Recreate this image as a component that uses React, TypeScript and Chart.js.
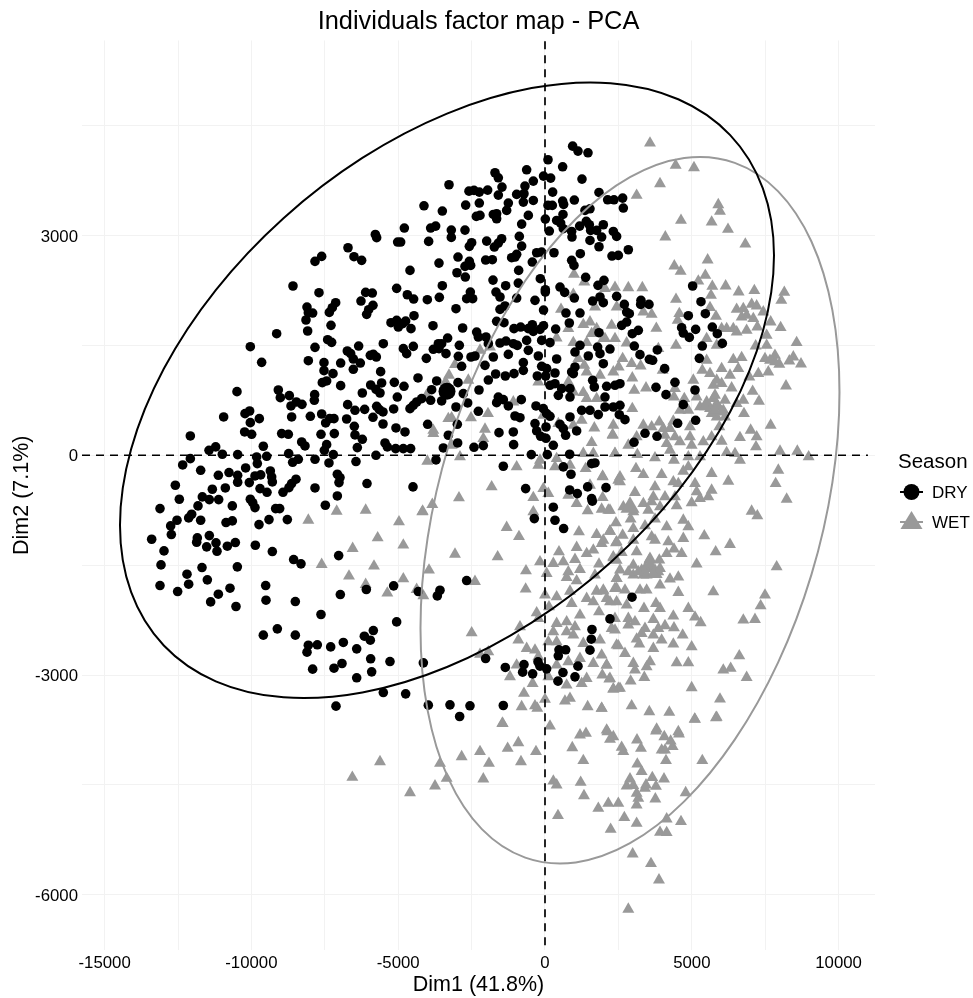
import React, { useEffect, useRef } from "react";
import { Chart, registerables } from "chart.js";

Chart.register(...registerables);

const FONT = '"Liberation Sans", Arial, sans-serif';
const xTicks = [-15000, -12500, -10000, -7500, -5000, -2500, 0, 2500, 5000, 7500, 10000];
const xLabels = [-15000, -10000, -5000, 0, 5000, 10000];
const yTicks = [-6000, -4500, -3000, -1500, 0, 1500, 3000, 4500];
const yLabels = [-6000, -3000, 0, 3000];

const dryA = [[-5779,3014],[-5734,2969],[-5019,2910],[-6710,2832],[-6506,2710],[-6245,2660],[-7607,2714],[-7834,2646],[-8584,2310],[-7698,2219],[-5053,2278],[-6109,2223],[-5882,2214],[-6268,2105],[-5859,2046],[-6006,1987],[-6075,1923],[-7130,2082],[-7244,2014],[-7346,1950],[-8107,2023],[-8061,1946],[-7914,1941],[-8141,1846],[-7289,1773],[-8084,1696],[-9140,1659],[-5246,1809],[-5053,1841],[-4996,1750],[-5507,1523],[-7403,1577],[-7267,1541],[-6347,1491],[-7834,1473],[-10037,1482],[-6733,1423],[-6619,1387],[-6529,1314],[-6290,1259],[-6960,1259],[-7528,1264],[-8061,1291],[-9651,1268],[-5950,1364],[-5847,1377],[-5745,1341],[-6529,1173],[-5598,1141],[-7528,1155],[-7221,1114],[-7437,1014],[-7585,991],[-6960,950],[-5564,987],[-5132,995],[-5938,959],[-5757,900],[-5620,850],[-6222,850],[-10491,868],[-9083,891],[-7846,827],[-8708,814],[-9015,786],[-7857,750],[-8470,727],[-8277,695],[-8652,673],[-5030,795],[-6722,691],[-6472,614],[-6143,627],[-5734,668],[-5643,623],[-5518,591],[-5155,632],[-10060,604],[-10218,568],[-10945,523],[-9730,500],[-10037,445],[-8629,523],[-7993,532],[-7607,563],[-7335,500],[-7187,500],[-7471,441],[-6756,495],[-5859,518],[-5518,427],[-6495,395],[-5076,373]];

const dryB = [[942,4219],[1124,4151],[1464,4128],[102,4033],[601,3937],[-625,3896],[-1703,3856],[-1590,3787],[-50,3810],[193,3783],[1260,3769],[-398,3742],[-3270,3692],[-682,3674],[-1465,3660],[-2589,3605],[-2419,3615],[-2237,3592],[-1953,3619],[-1590,3551],[-965,3560],[-716,3569],[261,3592],[1839,3587],[-4122,3405],[-2702,3414],[-2237,3442],[-1249,3442],[-738,3455],[-398,3478],[102,3410],[249,3410],[601,3469],[635,3424],[999,3483],[2134,3487],[2350,3487],[-3497,3333],[-1306,3342],[-2339,3260],[-2214,3274],[-1760,3287],[-1647,3296],[-1647,3228],[-568,3274],[11,3223],[613,3287],[397,3205],[533,3169],[1362,3342],[1532,3364],[-795,3155],[-4791,3101],[-3895,3101],[-3724,3128],[-3191,3073],[-2725,3073],[147,3060],[624,3092],[908,3055],[1180,3128],[1407,3192],[1510,3146],[1986,3146],[-3191,2973],[-3963,2919],[-4916,2910],[919,2978],[1555,3069],[1759,3069],[1532,2932],[1929,2978],[1839,2846],[2327,3055],[2440,2987],[-875,2987],[-1987,2923],[-1476,2955],[-1590,2896],[-1726,2842],[-2498,2901],[-2577,2851],[-795,2855],[-284,2764],[-114,2773],[306,2764],[1203,2751],[2282,2719],[2497,2728],[-2963,2705],[-965,2742],[-1136,2696],[-1022,2705],[-2021,2664],[-1794,2669],[-432,2637],[908,2660],[987,2591],[-3611,2623],[-2577,2646],[-2725,2578],[-2532,2591],[-4598,2523],[-2998,2491],[-897,2523],[-2714,2432],[-159,2410],[1385,2428],[2009,2387],[1805,2319],[-1771,2391],[-1340,2314],[-909,2350],[-3497,2314],[11,2260],[11,2228],[511,2296],[670,2223],[2440,2169],[999,2146],[1873,2160],[1623,2105],[1986,2082],[-4689,2191],[-4474,2132],[-4008,2123],[-3599,2155],[-2543,2228],[-2668,2137],[-2464,2137],[-1669,2228],[-1533,2160],[-965,2146],[-341,2114],[-3032,2000],[-1533,1991],[-1363,2037],[-50,1982],[715,1941],[1192,1941],[-4462,1905],[-1647,1828],[-1397,1809],[-4746,1832],[-4848,1796],[-4564,1728],[-3815,1768],[-2805,1737],[828,1805],[-1056,1728],[-829,1750],[-568,1728],[-432,1782],[-398,1691],[-171,1718],[-50,1768],[363,1723],[1839,1673],[-2328,1682],[-2271,1614],[-2010,1614],[-3316,1600],[-4485,1486],[-3633,1523],[-3520,1523],[-2918,1500],[-1533,1532],[-1329,1559],[-1079,1523],[-943,1500],[-625,1568],[-114,1568],[170,1537],[1192,1500],[1793,1477],[-3804,1446],[-3611,1455],[-1930,1523],[-4825,1455],[-4712,1387],[-3372,1387],[-2952,1350],[-2521,1341],[-2385,1355],[-1760,1341],[-1249,1377],[-568,1432],[-227,1355],[1021,1409],[1475,1355],[1873,1387],[2213,1450],[-4042,1323],[1986,1250],[397,1314],[-738,1264],[-2839,1214],[-2044,1227],[-114,1214],[56,1182],[1021,1205],[-738,1159],[908,1137],[-1056,1114],[-1681,1109],[-1351,1082],[-262,1082],[22,1082],[965,1114],[340,1123],[-4326,1055],[-3690,1014],[-1930,1027],[-2963,991],[-4803,941],[-3860,895],[-2248,891],[-2782,841],[170,955],[340,977],[567,909],[851,909],[1623,1023],[1680,932],[2100,941],[2384,955],[2554,977],[454,818],[2043,795],[851,795],[-4201,773],[-3895,750],[-4371,727],[-4485,682],[-4598,636],[-3520,741],[-2634,714],[-1590,795],[-1420,759],[-1647,718],[-1249,673],[-807,759],[-3032,659],[-307,673],[-57,636],[56,568],[170,532],[-2271,600],[-1022,536],[-852,513],[851,523],[1248,614],[1532,614],[1816,555],[2043,659],[2327,659],[2554,682],[-3997,423],[-2986,423],[-341,432],[34,386],[511,423],[624,363]];

const dryC = [[2645,3510],[2668,3374],[2838,2805],[5029,2310],[5313,2096],[3269,2114],[3258,2059],[3542,2059],[2702,2059],[2781,1955],[2872,1932],[2781,1818],[2611,1773],[3179,1705],[2974,1659],[4882,1905],[5461,1932],[4654,1741],[5131,1718],[5699,1750],[4711,1668],[4916,1609],[5869,1659],[6040,1527],[5358,1491],[3042,1491],[3826,1437],[3235,1373],[3553,1309],[3667,1296],[5256,1323],[4076,1182],[4427,995],[3780,927],[4121,827],[5109,891],[4711,691],[5131,477],[4518,436],[2531,554],[2724,486]];

const dryD = [[-12080,264],[-10230,318],[-9991,286],[-8969,296],[-8742,286],[-7630,286],[-7176,296],[-6472,277],[-6222,218],[-4769,318],[-9594,123],[-11217,114],[-11444,68],[-8288,182],[-8175,127],[-7437,145],[-7516,68],[-6392,105],[-5450,168],[-5370,114],[-5087,91],[-4826,91],[-4576,91],[-10990,14],[-10468,9],[-9821,-23],[-9480,-14],[-8731,23],[-7210,9],[-5757,0],[-12080,-46],[-12341,-132],[-9798,-114],[-8402,-55],[-8595,-96],[-7834,-55],[-7358,-105],[-6438,-86],[-11728,-205],[-10196,-173],[-9355,-214],[-11126,-273],[-10763,-236],[-10468,-273],[-10468,-368],[-9684,-268],[-9878,-282],[-9310,-296],[-9287,-364],[-10071,-373],[-7073,-259],[-6983,-305],[-7017,-373],[-8481,-327],[-8629,-386],[-8720,-441],[-8924,-505],[-12591,-409],[-11331,-464],[-10888,-446],[-9707,-455],[-9469,-505],[-7834,-446],[-6063,-386],[-4496,-432],[-7073,-555],[-12455,-600],[-11671,-568],[-11433,-605],[-11115,-605],[-10037,-600],[-9957,-646],[-13113,-728],[-11819,-691],[-10650,-691],[-9878,-714],[-9174,-728],[-9037,-728],[-7482,-682],[-12035,-805],[-12137,-855],[-12534,-887],[-11728,-887],[-10865,-918],[-10650,-896],[-9401,-878],[-8776,-878],[-12750,-964],[-9741,-946],[-12727,-1082],[-13397,-1146],[-11433,-1096],[-11842,-1128],[-11864,-1187],[-11206,-1196],[-11524,-1250],[-10820,-1241],[-10547,-1191],[-9866,-1228],[-11172,-1310],[-12977,-1305],[-9287,-1314],[-13079,-1496],[-8561,-1423],[-8311,-1482],[-7028,-1369],[-11683,-1532],[-10479,-1523],[-12194,-1623],[-11501,-1700],[-13113,-1778],[-12137,-1760],[-12512,-1860],[-10729,-1814],[-11126,-1896],[-9514,-1778],[-11388,-2001],[-10525,-2064],[-9503,-1978],[-8504,-1996],[-6971,-1901],[-6086,-1832],[-5155,-1782],[-4315,-1860],[-7630,-2173],[-5053,-2274],[-9117,-2369],[-9594,-2455],[-8504,-2455],[-5847,-2392],[-6153,-2469],[-5950,-2524],[-8061,-2592],[-7755,-2587],[-7300,-2615],[-6869,-2555],[-6414,-2642],[-8106,-2687],[-5938,-2778],[-6915,-2842],[-7187,-2906],[-7914,-2919],[-5280,-2815],[-4144,-2833],[-5904,-2956],[-6414,-3037],[-5507,-3238],[-4746,-3256],[-7119,-3424],[-3974,-3410]];

const dryE = [[-3293,273],[-2975,168],[-3463,100],[-3713,-64],[-2419,109],[-2101,132],[-1567,309],[-1079,318],[-1068,145],[-284,332],[-148,259],[33,232],[283,136],[703,273],[1078,332],[-466,9],[79,9],[840,14],[-1420,-150],[624,-159],[885,-259],[1589,-114],[1702,-105],[-659,-455],[840,-473],[1101,-523],[1453,-432],[2077,-441],[1589,-591],[1612,-627],[283,-709],[-364,-864],[340,-887],[635,-1000],[-2669,-1710],[-3577,-1842],[-3668,-1919],[2213,-2233],[1600,-2378],[1577,-2510],[1532,-2660],[476,-2655],[703,-2655],[453,-2737],[-2022,-2774],[-716,-2856],[-239,-2819],[-171,-2878],[56,-2915],[-1352,-2896],[-761,-2960],[-421,-2983],[1123,-2878],[612,-2965],[1021,-3024],[442,-3083],[-3236,-3406],[-2555,-3419],[-1420,-3415],[-2907,-3565],[3406,300],[3815,259],[3031,177],[2963,-1937]];

const wetA = [[3576,4283],[4450,3978],[5075,3946],[3917,3728],[3122,3569],[5903,3442],[5960,3351],[4632,3228],[5676,3205],[6233,3105],[4098,3001],[6823,2905],[5540,2687],[4405,2605],[4620,2532],[5461,2478],[5222,2400],[5699,2328],[6153,2332],[3315,2309],[2838,2309],[2384,2314],[6596,2250],[7130,2269],[8151,2246],[8049,2137],[4462,2150],[5654,2205],[5620,2037],[7039,2082],[7209,2059],[6528,2014],[6755,2023],[7436,1978],[6868,1932],[6698,1909],[7095,1887],[7686,1841],[5824,1918],[4575,1955],[4518,1864],[3633,1946],[3349,1978],[2441,2046],[8026,1764],[7232,1773],[3792,1755],[2270,1796],[6187,1750],[6414,1750],[6528,1705],[6868,1727],[6017,1750],[7550,1659],[5506,1614],[8571,1559],[4462,1523],[7175,1514],[7550,1523],[5847,1523],[2781,1555],[2384,1614],[2043,1614],[3860,1477],[2645,1341],[2951,1273],[3258,1241],[2327,1159],[2509,1227],[5506,1318],[6698,1355],[6414,1327],[7493,1341],[7833,1386],[8458,1364],[8322,1309],[8719,1268],[7981,1264],[7663,1318],[7833,1296],[5358,1182],[4007,1182],[6017,1205],[6584,1205],[5620,1137],[6301,1114],[7266,1137],[7606,1159],[6959,1091],[5052,1046],[5847,1046],[6017,1000],[5733,977],[2974,1077],[8208,968],[6357,941],[3440,941],[3042,909],[7073,895],[4427,932],[5165,818],[4745,795],[4393,818],[5733,795],[6130,773],[5506,750],[5847,727],[5279,682],[4882,636],[4598,636],[5620,659],[6073,636],[7288,759],[6755,773],[6528,727],[2974,659],[6777,591],[5847,545],[6130,545],[7686,432],[5937,409],[3894,477],[3349,432],[3633,409],[4371,486],[4030,386],[4938,409],[7005,364],[4257,386],[5790,841],[5903,682],[5676,591],[6017,613],[5449,682],[5790,636]];

const wetB = [[987,2491],[1339,2387],[965,2218],[545,2014],[1703,2046],[2043,2296],[1532,1841],[1305,1805],[794,1750],[1589,1682],[397,1623],[965,1559],[1419,1559],[1986,1614],[1759,1750],[-1874,1500],[-2214,1455],[-3066,1259],[-3270,1114],[-2612,1046],[-3384,1023],[-4031,841],[-227,1023],[794,1023],[1339,1250],[1419,1159],[1135,1341],[1873,1114],[965,886],[1305,877],[1759,795],[1419,795],[-1079,750],[-3293,523],[-3180,532],[-2521,532],[-1942,591],[-2044,377],[-3804,363],[-57,568],[454,455],[965,432],[1248,500],[1680,395],[2327,432]];

const wetC = [[-3804,318],[-2101,250],[-3179,159],[-2896,0],[-4008,-59],[-966,-136],[-171,-46],[-228,-114],[397,-23],[340,-136],[851,-114],[1305,46],[1646,46],[2383,46],[1589,195],[2304,295],[1384,-159],[1963,-273],[2497,-318],[-1817,-409],[-2930,-559],[-57,-432],[113,-500],[-398,-555],[1532,-387],[794,-523],[1078,-637],[1963,-555],[1453,-737],[1930,-714],[2213,-728],[-3838,-650],[-4167,-741],[-398,-750],[-1306,-964],[-886,-1087],[1157,-1023],[1759,-1060],[2213,-1014],[1929,-1182],[2440,-1160],[-3066,-1328],[-1613,-1364],[476,-1296],[1078,-1237],[1419,-1319],[1646,-1273],[2326,-1364],[-171,-1432],[283,-1455],[624,-1432],[1021,-1400],[1839,-1464],[2440,-1410],[-3951,-1546],[-648,-1555],[56,-1591],[1191,-1537],[794,-1569],[1702,-1614],[737,-1646],[1078,-1691],[2440,-1660],[-2385,-1701],[-4144,-1896],[-659,-1805],[0,-1887],[851,-1833],[397,-1910],[1419,-1932],[1759,-1833],[1986,-1819],[2383,-1796],[2100,-1932],[2440,-1978],[908,-2001],[136,-2046],[1646,-1978],[1839,-2114],[-284,-2128],[1191,-2160],[-228,-2205],[737,-2251],[397,-2273],[-852,-2319],[1021,-2319],[2383,-2205],[283,-2387],[-2498,-2401],[737,-2387],[965,-2433],[-909,-2501],[397,-2524],[113,-2524],[1305,-2546],[1873,-2501],[2270,-2342],[2440,-2569],[-625,-2615],[-341,-2637],[1930,-2705],[1191,-2751],[-2214,-2696],[-1931,-2660],[-228,-2728],[1646,-2819],[794,-2796],[397,-2842],[2100,-2842],[-966,-2842],[-1193,-3001],[113,-3001],[1419,-3024],[1952,-2978],[2213,-3024],[-421,-3092],[737,-3115],[1248,-3092],[2327,-3169],[2554,-3160],[-716,-3228],[0,-3310],[851,-3296],[680,-3333],[-795,-3410],[-341,-3397],[-262,-3433],[1453,-3410],[1930,-3433],[-1442,-3638],[170,-3674]];

const wetD = [[2304,305],[2838,159],[3122,273],[4087,296],[4427,273],[4144,182],[4257,91],[4598,205],[4938,273],[4995,159],[5392,205],[5676,273],[6017,214],[6641,264],[7186,136],[7209,273],[2384,45],[3145,32],[3746,-14],[4393,-46],[4882,0],[5279,0],[6187,59],[6471,45],[6641,-46],[8004,77],[8594,77],[8980,0],[3099,-159],[3349,-241],[2554,-273],[2554,-341],[1964,-264],[3973,-241],[4882,-136],[4711,-196],[5676,-227],[7947,-182],[6244,-332],[7856,-364],[4371,-341],[3746,-409],[4541,-364],[5109,-364],[3065,-486],[5676,-455],[5165,-477],[8231,-578],[3690,-546],[4087,-546],[3349,-637],[3633,-614],[3917,-682],[4427,-546],[4995,-627],[5279,-568],[5563,-546],[4484,-668],[2668,-682],[2895,-682],[2157,-728],[3008,-750],[3519,-728],[7038,-741],[7232,-805],[2917,-850],[4711,-864],[3746,-850],[4882,-955],[2418,-900],[3406,-941],[4144,-955],[3008,-978],[2214,-1014],[2645,-1069],[5426,-1078],[3633,-1091],[4711,-1114],[4200,-1160],[1987,-1137],[2418,-1173],[3008,-1137],[3746,-1137],[6301,-1196],[4393,-1259],[5813,-1296],[2611,-1305],[3122,-1296],[4654,-1319],[4144,-1319],[3894,-1409],[2327,-1378],[3553,-1409],[5165,-1464],[7890,-1500],[3008,-1478],[2554,-1546],[3292,-1546],[3576,-1523],[3860,-1569],[3008,-1614],[4541,-1641],[2441,-1660],[3349,-1614],[3803,-1605],[4257,-1669],[3917,-1750],[1987,-1832],[2441,-1796],[2724,-1819],[3235,-1819],[3462,-1819],[4541,-1851],[5733,-1842],[7493,-1887],[2214,-1978],[2781,-2023],[3780,-2001],[3372,-2069],[3917,-2069],[4882,-2069],[7345,-2033],[6755,-2228],[7152,-2219],[4371,-2174],[5109,-2187],[5302,-2264],[3690,-2219],[2838,-2205],[3065,-2251],[2838,-2296],[2384,-2364],[3406,-2342],[4087,-2305],[4393,-2333],[3860,-2342],[3292,-2410],[3690,-2433],[4689,-2433],[3973,-2501],[3122,-2487],[3213,-2555],[4371,-2555],[4995,-2592],[2497,-2578],[3690,-2615],[2724,-2683],[6618,-2715],[3576,-2796],[3008,-2819],[4484,-2810],[4882,-2810],[2100,-2842],[3462,-2865],[3065,-2910],[6073,-2910],[6324,-2887],[6868,-3010],[3383,-3010],[2191,-3033],[2917,-3060],[4995,-3151],[2497,-3160],[2327,-3169],[5960,-3306],[2951,-3397],[3553,-3478],[4234,-3487],[1930,-3433],[5824,-3560],[5097,-3578],[3803,-3715],[4541,-3751],[2100,-3729],[3406,-1523],[3576,-1455],[3746,-1546],[3917,-1523],[3179,-1569],[3576,-1387],[2838,-1569],[3462,-1614],[3690,-1592]];

const wetE = [[-5620,-4160],[-6562,-4374],[-4598,-4583],[-3747,-4492],[-3349,-4387],[-3576,-4183],[-2839,-4092],[-2214,-4023],[-1908,-4183],[-2101,-4396],[-1454,-3637],[-1272,-3978],[-908,-3901],[-818,-4160],[-307,-4023],[930,-3969],[1192,-3796],[1396,-3773],[1305,-4146],[284,-4424],[397,-4478],[1215,-4442],[1328,-4624],[442,-4896],[1816,-4796],[2157,-4728],[2498,-4728],[2702,-4924],[2236,-5083],[3122,-5001],[3758,-4669],[3122,-4751],[3178,-4660],[3122,-4592],[2781,-4492],[2895,-4396],[3008,-4487],[3405,-4524],[3440,-4478],[3780,-4496],[3655,-4378],[4053,-4396],[4791,-4583],[4144,-4942],[4632,-4978],[3917,-5124],[4144,-5128],[3292,-4296],[3144,-4192],[4121,-4146],[5358,-4146],[3973,-4001],[4087,-4001],[4348,-3955],[4280,-3878],[4064,-3819],[3780,-3742],[4564,-3782],[3269,-3978],[3133,-3864],[2611,-3964],[2668,-4023],[2123,-3751],[2327,-3819],[2214,-3855],[5108,-3582],[5847,-3555],[2986,-5419],[3610,-5551],[3882,-5774],[2838,-6174]];

const wetF = [[-8061,-864],[-7096,-741],[-6108,-728],[-4179,-750],[-4973,-887],[-5700,-1105],[-4826,-1205],[-6551,-1250],[-7607,-1469],[-5825,-1491],[-6676,-1628],[-4826,-1664],[-6108,-1742],[-5370,-1860],[-4372,-1810]];

const dryMean = [[-3338, 873]];
const wetMean = [[2895, -709]];

const dryEllipse = [[7420,1689],[7800,2729],[7420,3643],[6308,4370],[4538,4859],[2231,5078],[-455,5011],[-3338,4663],[-6221,4058],[-8907,3236],[-11214,2255],[-12984,1180],[-14096,85],[-14476,-955],[-14096,-1869],[-12984,-2596],[-11214,-3085],[-8907,-3304],[-6221,-3237],[-3338,-2889],[-455,-2283],[2231,-1462],[4538,-481],[6308,594],[7420,1689],[7800,2729],[7420,3643]];

const wetEllipse = [[9788,-372],[10031,860],[9788,1981],[9075,2917],[7941,3602],[6463,3991],[4742,4057],[2895,3795],[1048,3224],[-673,2381],[-2151,1326],[-3285,129],[-3998,-1128],[-4241,-2360],[-3998,-3481],[-3285,-4417],[-2151,-5102],[-673,-5491],[1048,-5557],[2895,-5295],[4742,-4724],[6463,-3881],[7941,-2826],[9075,-1629],[9788,-372],[10031,860],[9788,1981]];

const hLine = [[-15770, 0], [11000, 0]];
const vLine = [[0, 5650], [0, -6750]];

const toXY = (a: number[][]) => a.map(([x, y]) => ({ x, y }));
// triangles were read at their visual mid-height; the marker is anchored on its centroid
const toWetXY = (a: number[][]) => a.map(([x, y]) => ({ x, y: y - 22 }));
const DARK = "#000000";
const GRAY = "#999999";

// the ellipse lists wrap round by one vertex so the curve stays smooth where it closes;
// the two guard segments at the ends are not painted
const closedLoop = (color: string, last: number) => ({
  borderColor: (ctx: any) => (ctx.p0DataIndex === 0 || ctx.p1DataIndex === last ? "rgba(0,0,0,0)" : color),
});

const legendPlugin = {
  id: "seasonLegend",
  afterDraw(chart: any) {
    const c = chart.ctx;
    c.save();
    c.textBaseline = "middle";
    c.textAlign = "left";
    c.fillStyle = "#000";
    c.font = `20.5px ${FONT}`;
    c.fillText("Season", 898, 462);
    c.font = `17px ${FONT}`;
    c.fillText("DRY", 932, 493);
    c.fillText("WET", 932, 523);
    c.lineWidth = 2;
    c.strokeStyle = DARK;
    c.beginPath(); c.moveTo(900, 492); c.lineTo(923, 492); c.stroke();
    c.fillStyle = DARK;
    c.beginPath(); c.arc(911.5, 492, 8, 0, Math.PI * 2); c.fill();
    c.strokeStyle = GRAY;
    c.beginPath(); c.moveTo(900, 522); c.lineTo(923, 522); c.stroke();
    c.fillStyle = GRAY;
    c.beginPath(); c.moveTo(911.5, 511); c.lineTo(922.5, 529); c.lineTo(900.5, 529); c.closePath(); c.fill();
    c.restore();
  },
};

export default function App() {
  const ref = useRef<HTMLCanvasElement | null>(null);
  useEffect(() => {
    document.body.style.margin = "0";
    const chart = new Chart(ref.current as HTMLCanvasElement, {
      type: "scatter",
      data: {
        datasets: [
          { label: "DRY", data: toXY([...dryA, ...dryB, ...dryC, ...dryD, ...dryE]), backgroundColor: DARK, pointStyle: "circle", pointRadius: 4.8, pointBorderWidth: 0, order: 3 },
          { label: "WET", data: toWetXY([...wetA, ...wetB, ...wetC, ...wetD, ...wetE, ...wetF]), backgroundColor: GRAY, pointStyle: "triangle", pointRadius: 6.9, pointBorderWidth: 0, order: 5 },
          { label: "DRY mean", data: toXY(dryMean), backgroundColor: DARK, pointStyle: "circle", pointRadius: 8.5, pointBorderWidth: 0, order: 3 },
          { label: "WET mean", data: toXY(wetMean), backgroundColor: GRAY, pointStyle: "triangle", pointRadius: 11, pointBorderWidth: 0, order: 4 },
          { label: "DRY ellipse", data: toXY(dryEllipse), showLine: true, borderColor: DARK, borderWidth: 2, pointRadius: 0, tension: 0.33, order: 2, segment: closedLoop(DARK, dryEllipse.length - 1) },
          { label: "WET ellipse", data: toXY(wetEllipse), showLine: true, borderColor: GRAY, borderWidth: 2, pointRadius: 0, tension: 0.33, order: 2, segment: closedLoop(GRAY, wetEllipse.length - 1) },
          { label: "y=0", data: toXY(hLine), showLine: true, borderColor: DARK, borderWidth: 1.7, borderDash: [8, 6], pointRadius: 0, order: 1 },
          { label: "x=0", data: toXY(vLine), showLine: true, borderColor: DARK, borderWidth: 1.7, borderDash: [8, 6], pointRadius: 0, order: 1 },
        ],
      },
      options: {
        responsive: false,
        animation: false,
        layout: { padding: { right: 98, left: 0, top: 0, bottom: 0 } },
        plugins: {
          legend: { display: false },
          tooltip: { enabled: false },
          title: {
            display: true,
            text: "Individuals factor map - PCA",
            color: "#000",
            fullSize: false,
            font: { family: FONT, size: 25.4, weight: "normal" },
            padding: { top: 7, bottom: 3 },
          },
        },
        scales: {
          x: {
            type: "linear",
            min: -15770,
            max: 11240,
            afterFit: (s: any) => { s.height = 48; },
            afterBuildTicks: (s: any) => { s.ticks = xTicks.map((value) => ({ value })); },
            grid: { color: "#f2f2f2", lineWidth: 1, drawTicks: false },
            border: { display: false },
            ticks: {
              autoSkip: false, maxRotation: 0, color: "#000", padding: 3,
              font: { family: FONT, size: 16.8 },
              callback: (v: any) => (xLabels.includes(v) ? String(v) : ""),
            },
            title: { display: true, text: "Dim1 (41.8%)", color: "#000", font: { family: FONT, size: 21.5 }, padding: { top: 0, bottom: 0 } },
          },
          y: {
            type: "linear",
            min: -6752,
            max: 5661,
            afterFit: (s: any) => { s.width = 82; },
            afterBuildTicks: (s: any) => { s.ticks = yTicks.map((value) => ({ value })); },
            grid: { color: "#f2f2f2", lineWidth: 1, drawTicks: false },
            border: { display: false },
            ticks: {
              autoSkip: false, color: "#000", padding: 4, labelOffset: 1.5,
              font: { family: FONT, size: 16.8 },
              callback: (v: any) => (yLabels.includes(v) ? String(v) : ""),
            },
            title: { display: true, text: "Dim2 (7.1%)", color: "#000", font: { family: FONT, size: 21.5 }, padding: { top: 9, bottom: 0 } },
          },
        },
      } as any,
      plugins: [legendPlugin],
    });
    return () => chart.destroy();
  }, []);
  return (
    <div style={{ position: "absolute", left: 0, top: 0, width: 973, height: 998 }}>
      <canvas ref={ref} width={973} height={998} style={{ display: "block" }} />
    </div>
  );
}
